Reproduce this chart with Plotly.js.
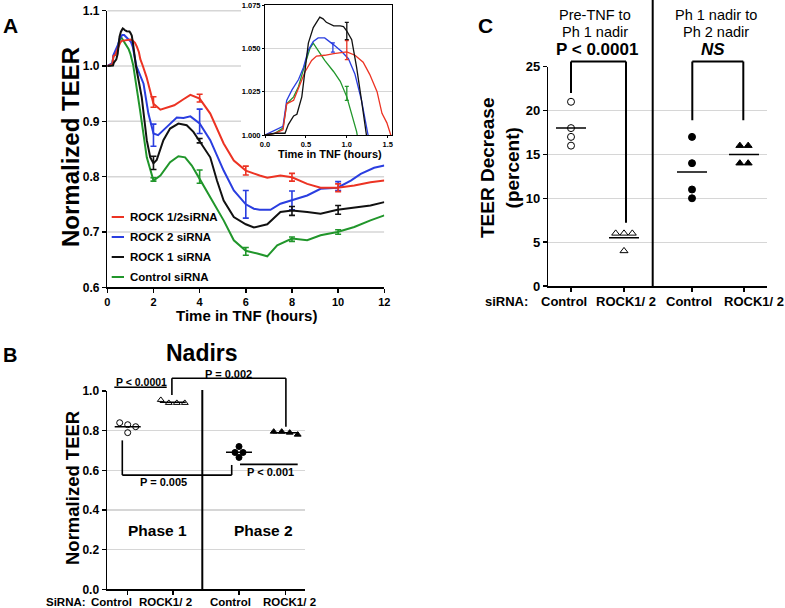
<!DOCTYPE html>
<html><head><meta charset="utf-8">
<script src="https://cdn.plot.ly/plotly-3.0.1.min.js"></script>
<style>html,body{margin:0;padding:0;background:#fff}#chart{width:785px;height:608px}</style>
</head><body><div id="chart"></div>
<script>
// ---------------- DATA ----------------
// Panel A: normalized TEER time courses (hours in TNF)
const seriesNames = ['ROCK 1/2siRNA', 'ROCK 2 siRNA', 'ROCK 1 siRNA', 'Control siRNA'];

const tRock12 = [0,0.12,0.22,0.265,0.35,0.43,0.49,0.57,0.63,0.73,0.84,1.0,1.1,1.2,1.28,1.37,1.43,1.49,1.54,1.7,1.86,2.0,2.3,2.6,2.9,3.3,3.6,4.0,4.46,5.04,5.48,6.0,6.35,6.6,6.93,7.5,8.0,8.66,9.24,9.97,10.7,11.4,12];
const vRock12 = [1.0,1.001,1.003,1.018,1.020,1.029,1.0365,1.043,1.0455,1.046,1.047,1.048,1.046,1.042,1.035,1.025,1.0125,1.007,1.0,0.98,0.956,0.932,0.921,0.925,0.929,0.94,0.948,0.941,0.914,0.86,0.829,0.811,0.805,0.802,0.798,0.802,0.799,0.787,0.780,0.780,0.784,0.790,0.793];

const tRock2 = [0,0.12,0.22,0.265,0.33,0.41,0.47,0.53,0.59,0.65,0.73,0.84,0.94,1.02,1.1,1.18,1.26,1.57,1.78,2.0,2.2,2.58,3.01,3.3,3.6,4.0,4.46,5.04,5.48,6.0,6.35,6.6,7.07,7.5,8.0,8.66,9.24,9.97,10.55,10.98,11.56,12];
const vRock2 = [1.0,1.0025,1.005,1.020,1.026,1.032,1.039,1.049,1.054,1.056,1.056,1.052,1.048,1.044,1.035,1.020,1.0,0.968,0.914,0.878,0.875,0.890,0.907,0.906,0.909,0.896,0.866,0.811,0.775,0.750,0.742,0.740,0.740,0.751,0.758,0.766,0.778,0.780,0.793,0.805,0.816,0.820];

const tRock1 = [0,0.12,0.245,0.285,0.35,0.39,0.45,0.49,0.53,0.59,0.67,0.71,0.75,0.84,0.92,0.96,1.0,1.06,1.12,1.18,1.24,1.49,1.71,1.86,2.0,2.14,2.43,2.72,3.08,3.44,3.73,4.0,4.46,4.75,5.04,5.48,6.0,6.35,6.93,7.5,8.0,8.66,9.24,9.97,10.7,11.4,12];
const vRock1 = [1.0,1.001,1.001,1.006,1.011,1.012,1.022,1.039,1.053,1.062,1.068,1.067,1.065,1.063,1.063,1.0625,1.060,1.055,1.039,1.020,1.0,0.944,0.866,0.835,0.824,0.830,0.866,0.887,0.896,0.893,0.881,0.864,0.835,0.793,0.757,0.727,0.714,0.708,0.714,0.736,0.739,0.736,0.733,0.740,0.744,0.748,0.754];

const tControl = [0,0.12,0.22,0.265,0.35,0.41,0.49,0.55,0.59,0.65,0.73,0.84,0.92,1.0,1.06,1.12,1.42,1.71,2.0,2.3,2.72,3.08,3.37,3.66,4.0,4.46,5.04,5.48,6.0,6.5,6.93,7.36,8.0,8.66,9.24,9.97,10.7,11.4,12];
const vControl = [1.0,1.001,1.004,1.018,1.022,1.028,1.041,1.050,1.053,1.049,1.043,1.0365,1.031,1.022,1.0125,1.002,0.92,0.835,0.793,0.802,0.826,0.837,0.835,0.820,0.796,0.763,0.721,0.685,0.666,0.661,0.656,0.676,0.688,0.685,0.694,0.700,0.709,0.721,0.730];

// error bars, main panel
const ebT_Rock12 = [2,4,6,8,10],  ebV_Rock12 = [0.935,0.942,0.811,0.799,0.780], ebE_Rock12 = [0.0095,0.007,0.008,0.007,0.007];
const ebT_Rock2  = [2,4,6,8,10],  ebV_Rock2  = [0.875,0.900,0.750,0.757,0.783], ebE_Rock2  = [0.020,0.022,0.025,0.017,0.008];
const ebT_Rock1  = [2,4,8,10],    ebV_Rock1  = [0.825,0.865,0.738,0.740],       ebE_Rock1  = [0.012,0.004,0.008,0.008];
const ebT_Ctrl   = [2,4,6,8,10],  ebV_Ctrl   = [0.795,0.800,0.665,0.687,0.700], ebE_Ctrl   = [0.003,0.012,0.007,0.004,0.004];
// error bars, inset
const inT_Rock12 = [1.0],  inV_Rock12 = [1.049],  inE_Rock12 = [0.0055];
const inT_Rock2  = [0.83], inV_Rock2  = [1.0505], inE_Rock2  = [0.0027];
const inT_Rock1  = [1.0],  inV_Rock1  = [1.060],  inE_Rock1  = [0.005];
const inT_Ctrl   = [1.0],  inV_Ctrl   = [1.024],  inE_Ctrl   = [0.004];

// Panel B: nadirs (normalized TEER)
const bCategories = ['Control', 'ROCK1/ 2', 'Control', 'ROCK1/ 2'];
const bPhase1Control = [0.84, 0.79, 0.82, 0.83];
const bPhase1Rock    = [0.94, 0.94, 0.94, 0.955];
const bPhase2Control = [0.72, 0.69, 0.69, 0.665];
const bPhase2Rock    = [0.795, 0.78, 0.79, 0.795];

// Panel C: TEER decrease (percent)
const cCategories = ['Control', 'ROCK1/ 2', 'Control', 'ROCK1/ 2'];
const cPreControl  = [21, 18, 17, 16];
const cPreRock     = [6, 6, 6, 4];
const cPostControl = [17, 14, 11, 10];
const cPostRock    = [16, 16, 14, 14];

// ---------------- LAYOUT HELPERS ----------------
const W = 785, H = 608;
const FONT = 'Liberation Sans, Arial, Helvetica, sans-serif';
const COLORS = ['#ec3323', '#2a3ee0', '#111111', '#21962b'];
const xd = (a, b) => [a / W, b / W];
const yd = (top, bottom) => [1 - bottom / H, 1 - top / H];

// x positions (axis units = pixels from the axis start) of categories
const bPos = [20.7, 65.8, 132, 178.7], bDivider = 95.3;
const cPos = [22.7, 75.7, 143.7, 195.7], cDivider = 104.4;
const bPxPerUnit = 198.3, cPxPerUnit = 8.772;

function mean(a) { return a.reduce((s, v) => s + v, 0) / a.length; }
// simple dot-plot layout: points that fall within `thresh` px are spread into a row
function swarm(vals, center, pxPerVal, thresh, spacing) {
  const idx = vals.map((v, i) => i).sort((a, b) => vals[b] - vals[a]);
  const xs = new Array(vals.length);
  let row = [], start = null;
  const flush = () => row.forEach((i, k) => { xs[i] = center + (k - (row.length - 1) / 2) * spacing; });
  idx.forEach(i => {
    if (start === null || Math.abs(vals[i] - start) * pxPerVal < thresh) { if (start === null) start = vals[i]; row.push(i); }
    else { flush(); row = [i]; start = vals[i]; }
  });
  flush();
  return xs;
}

const traces = [];
const tList = [tRock12, tRock2, tRock1, tControl];
const vList = [vRock12, vRock2, vRock1, vControl];
const ebList = [[ebT_Rock12, ebV_Rock12, ebE_Rock12], [ebT_Rock2, ebV_Rock2, ebE_Rock2], [ebT_Rock1, ebV_Rock1, ebE_Rock1], [ebT_Ctrl, ebV_Ctrl, ebE_Ctrl]];
const inList = [[inT_Rock12, inV_Rock12, inE_Rock12], [inT_Rock2, inV_Rock2, inE_Rock2], [inT_Rock1, inV_Rock1, inE_Rock1], [inT_Ctrl, inV_Ctrl, inE_Ctrl]];
const drawOrder = [3, 1, 0, 2];
drawOrder.forEach(k => {
  traces.push({type: 'scatter', mode: 'lines', x: tList[k], y: vList[k], name: seriesNames[k], xaxis: 'x', yaxis: 'y',
    line: {color: COLORS[k], width: 2}});
  traces.push({type: 'scatter', mode: 'markers', x: ebList[k][0], y: ebList[k][1], xaxis: 'x', yaxis: 'y',
    marker: {size: 1, color: COLORS[k], opacity: 0},
    error_y: {type: 'data', array: ebList[k][2], visible: true, color: COLORS[k], thickness: 1.6, width: 3}});
});
drawOrder.forEach(k => {
  traces.push({type: 'scatter', mode: 'lines', x: tList[k], y: vList[k], name: seriesNames[k], xaxis: 'x2', yaxis: 'y2',
    line: {color: COLORS[k], width: 1.3}});
  traces.push({type: 'scatter', mode: 'markers', x: inList[k][0], y: inList[k][1], xaxis: 'x2', yaxis: 'y2',
    marker: {size: 1, color: COLORS[k], opacity: 0},
    error_y: {type: 'data', array: inList[k][2], visible: true, color: COLORS[k], thickness: 1.3, width: 2}});
});

// Panel B and C dot plots
function dotGroup(vals, center, pxPerVal, spacing, symbol, size, xa, ya) {
  return {type: 'scatter', mode: 'markers', x: swarm(vals, center, pxPerVal, 4.5, spacing), y: vals, xaxis: xa, yaxis: ya,
    cliponaxis: false,
    marker: {symbol: symbol, size: size, color: '#000', line: {color: '#000', width: 1}}};
}
function meanLines(groups, centers, half, xa, ya) {
  const x = [], y = [];
  groups.forEach((g, i) => { const m = mean(g); x.push(centers[i] - half, centers[i] + half, null); y.push(m, m, null); });
  return {type: 'scatter', mode: 'lines', x, y, xaxis: xa, yaxis: ya, line: {color: '#000', width: 1.5}, cliponaxis: false};
}
const bGroups = [bPhase1Control, bPhase1Rock, bPhase2Control, bPhase2Rock];
const bSymbols = ['circle-open', 'triangle-up-open', 'circle', 'triangle-up'];
traces.push(meanLines(bGroups, bPos, 13, 'x3', 'y3'));
bGroups.forEach((g, i) => traces.push(dotGroup(g, bPos[i], bPxPerUnit, 8, bSymbols[i], 6, 'x3', 'y3')));
const cGroups = [cPreControl, cPreRock, cPostControl, cPostRock];
traces.push(meanLines(cGroups, cPos, 15, 'x4', 'y4'));
cGroups.forEach((g, i) => traces.push(dotGroup(g, cPos[i], cPxPerUnit, 8.3, bSymbols[i], 7, 'x4', 'y4')));

// ---------------- AXES ----------------
const base = {showline: true, linecolor: '#000', linewidth: 1.5, ticks: 'outside', ticklen: 4, tickwidth: 1.5,
  tickcolor: '#000', zeroline: false, showgrid: false, fixedrange: true,
  tickfont: {family: FONT, size: 12, color: '#000', weight: 'bold'}};
const GRID = '#d6d6d6';
const layout = {
  width: W, height: H, margin: {l: 0, r: 0, t: 0, b: 0}, showlegend: false, hovermode: false,
  paper_bgcolor: '#fff', plot_bgcolor: '#fff', font: {family: FONT, color: '#000'},
  xaxis: Object.assign({}, base, {domain: xd(107.3, 384.3), range: [0, 12], tickvals: [0, 2, 4, 6, 8, 10, 12], anchor: 'y',
    tickfont: {family: FONT, size: 11, color: '#000', weight: 'bold'}}),
  yaxis: Object.assign({}, base, {domain: yd(10.7, 287.3), range: [0.6, 1.1], tickvals: [0.6, 0.7, 0.8, 0.9, 1.0, 1.1], tickformat: '.1f', anchor: 'x'}),
  xaxis2: Object.assign({}, base, {domain: xd(265, 392), range: [0, 1.5526], tickvals: [0, 0.5, 1, 1.5], tickformat: '.1f', anchor: 'y2',
    mirror: true, linewidth: 1, tickwidth: 1, ticklen: 2, tickfont: {family: FONT, size: 7.5, color: '#000', weight: 'bold'}}),
  yaxis2: Object.assign({}, base, {domain: yd(5, 135), range: [1.0, 1.075], tickvals: [1.0, 1.025, 1.05, 1.075], tickformat: '.3f', anchor: 'x2',
    mirror: true, linewidth: 1, tickwidth: 1, ticklen: 2, showgrid: true, gridcolor: GRID, gridwidth: 1,
    tickfont: {family: FONT, size: 7.5, color: '#000', weight: 'bold'}}),
  xaxis3: Object.assign({}, base, {domain: xd(107, 305), range: [0, 198], tickvals: bPos, showticklabels: false, anchor: 'y3'}),
  yaxis3: Object.assign({}, base, {domain: yd(391, 589.3), range: [0, 1.0], tickvals: [0, 0.2, 0.4, 0.6, 0.8, 1.0], tickformat: '.1f', anchor: 'x3',
    showgrid: true, gridcolor: GRID, gridwidth: 1.2}),
  xaxis4: Object.assign({}, base, {domain: xd(548.3, 766.7), range: [0, 218.4], tickvals: cPos, showticklabels: false, anchor: 'y4'}),
  yaxis4: Object.assign({}, base, {domain: yd(66.7, 286), range: [0, 25], tickvals: [0, 5, 10, 15, 20, 25], anchor: 'x4',
    showgrid: true, gridcolor: GRID, gridwidth: 1.2, tickfont: {family: FONT, size: 13, color: '#000', weight: 'bold'}}),
  shapes: [], annotations: []
};

// main-panel gridlines (hidden behind the inset, as in the figure)
const mainGrid = [0.7, 0.8, 0.9, 1.0, 1.1];
const insetLeftX = (241 - 107.3) / 23.08, insetFloor = 0.85;
mainGrid.forEach(v => layout.shapes.push({type: 'line', layer: 'below', xref: 'x', yref: 'y domain',
  x0: 0, x1: v > insetFloor ? insetLeftX : 12, y0: (v - 0.6) / 0.5, y1: (v - 0.6) / 0.5, line: {color: GRID, width: 1.5}}));

function seg(xref, yref, pts, width) {
  for (let i = 0; i < pts.length - 1; i++) {
    layout.shapes.push({type: 'line', xref, yref, x0: pts[i][0], y0: pts[i][1], x1: pts[i + 1][0], y1: pts[i + 1][1],
      line: {color: '#000', width: width || 1.6}});
  }
}
// Panel B brackets & divider (y in domain fraction == value since range is [0,1])
seg('x3', 'y3 domain', [[bDivider, 0], [bDivider, 1.005]], 2);
seg('x3', 'y3 domain', [[7.3, 1.019], [59.7, 1.019]]);
seg('x3', 'y3 domain', [[64.9, 0.98], [64.9, 1.064], [178.9, 1.064], [178.9, 0.82]]);
seg('x3', 'y3 domain', [[15.3, 0.751], [15.3, 0.576], [124.7, 0.576], [124.7, 0.627]]);
seg('x3', 'y3 domain', [[133, 0.630], [190.7, 0.630]]);
// Panel C brackets & divider
const c25 = v => v / 25;
seg('x4', 'y4 domain', [[cDivider, 0], [cDivider, c25(32.6)]], 2);
seg('x4', 'y4 domain', [[cPos[0], c25(22.0)], [cPos[0], c25(25.6)], [77.7, c25(25.6)], [77.7, c25(7.2)]], 2);
seg('x4', 'y4 domain', [[144, c25(18.9)], [144, c25(25.6)], [195, c25(25.6)], [195, c25(18.9)]], 2);

function ann(text, x, y, size, extra) {
  layout.annotations.push(Object.assign({text, x: x / W, y: 1 - y / H, xref: 'paper', yref: 'paper', showarrow: false,
    xanchor: 'center', yanchor: 'middle', borderpad: 0, font: {family: FONT, size, color: '#000'}}, extra || {}));
}
// Panel labels
ann('<b>A</b>', 10, 25, 21);
ann('<b>B</b>', 10, 355, 20);
ann('<b>C</b>', 485, 25, 21);
// Panel A texts
ann('<b>Normalized TEER</b>', 70, 147, 24, {textangle: -90});
ann('<b>Time in TNF (hours)</b>', 246, 315, 15);
ann('<b>Time in TNF (hours)</b>', 330, 154, 11);
const legendRows = [217, 237, 257, 277];
seriesNames.forEach((n, k) => {
  layout.shapes.push({type: 'line', xref: 'paper', yref: 'paper', x0: 111.7 / W, x1: 124 / W,
    y0: 1 - legendRows[k] / H, y1: 1 - legendRows[k] / H, line: {color: COLORS[k], width: 2}});
  ann('<b>' + n + '</b>', 129.3, legendRows[k], 11.5, {xanchor: 'left'});
});
// Panel B texts
ann('<b>Nadirs</b>', 201.7, 353, 23);
ann('<b>Normalized TEER</b>', 72, 488, 18.5, {textangle: -90});
ann('<b>P &lt; 0.0001</b>', 141, 381.7, 10.5);
ann('<b>P = 0.002</b>', 228.3, 373.5, 11);
ann('<b>P = 0.005</b>', 163.3, 482.3, 11);
ann('<b>P &lt; 0.001</b>', 270.7, 471.7, 11);
ann('<b>Phase 1</b>', 157.5, 530.7, 15.5);
ann('<b>Phase 2</b>', 263.3, 530.7, 15.5);
ann('<b>SiRNA:</b>', 65.8, 601.7, 11.5);
const bLabelX = [111, 165.8, 230, 289.7];
bCategories.forEach((c, i) => ann('<b>' + c + '</b>', bLabelX[i], 601.7, 11.5));
// Panel C texts
ann('Pre-TNF to', 595, 15, 14.5);
ann('Ph 1 nadir', 595, 31.7, 14.5);
ann('<b>P &lt; 0.0001</b>', 596.7, 49.3, 17);
ann('Ph 1 nadir to', 715.5, 15, 14.5);
ann('Ph 2 nadir', 715.5, 31.7, 14.5);
ann('<b><i>NS</i></b>', 713.3, 49.3, 17);
ann('<b>TEER Decrease<br>(percent)</b>', 500, 168, 19, {textangle: -90});
ann('<b>siRNA:</b>', 506.7, 301.7, 13);
const cLabelX = [564, 625.7, 689, 754];
cCategories.forEach((c, i) => ann('<b>' + c + '</b>', cLabelX[i], 301.7, 13));

Plotly.newPlot('chart', traces, layout, {staticPlot: true, displayModeBar: false});
</script>
</body></html>
